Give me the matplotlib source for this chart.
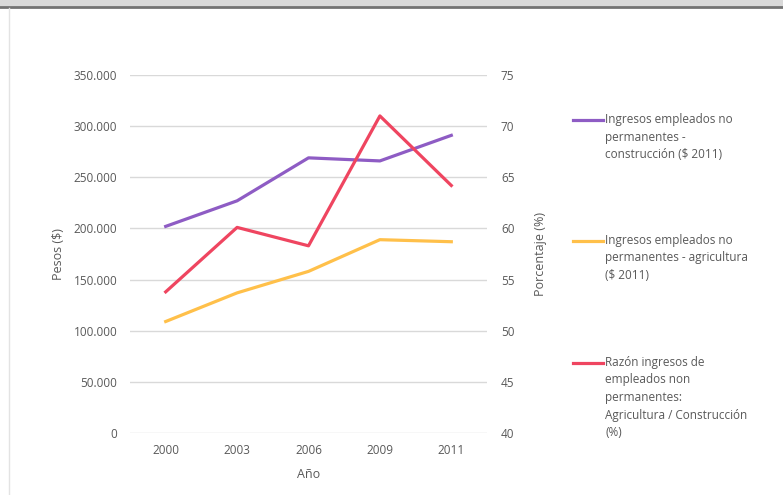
import numpy as np
import matplotlib
matplotlib.use("Agg")
from matplotlib import pyplot as plt
from matplotlib.lines import Line2D
from matplotlib.ticker import FuncFormatter

plt.rcParams['font.family'] = ['Open Sans', 'DejaVu Sans']

# datos
anios = ['2000', '2003', '2006', '2009', '2011']
construccion = [202000, 227000, 269000, 266000, 291000]
agricultura = [109000, 137000, 158000, 189000, 187000]
razon = [53.8, 60.1, 58.3, 71.0, 64.2]

etiquetas = [
    'Ingresos empleados no\npermanentes -\nconstrucción ($ 2011)',
    'Ingresos empleados no\npermanentes - agricultura\n($ 2011)',
    'Razón ingresos de\nempleados non\npermanentes:\nAgricultura / Construcción\n(%)',
]
colores = ['#8e5cc4', '#ffc04a', '#ef4560']

gris = '#595959'
W, H = 783, 495
fig = plt.figure(figsize=(W / 100, H / 100), dpi=100)

# marco superior / izquierdo (captura de pantalla)
fig.patches.append(plt.Rectangle((0, 1 - 6 / H), 1, 6 / H, transform=fig.transFigure,
                                 color='#d9d9d9', zorder=0))
fig.add_artist(Line2D([0, 1], [1 - 7 / H, 1 - 7 / H], color='#737373', lw=2))
fig.add_artist(Line2D([9 / W, 9 / W], [0, 1 - 8 / H], color='#e3e3e3', lw=1))

ax = fig.add_axes([130 / W, 1 - 433 / H, 357 / W, 358 / H])
ax2 = ax.twinx()

x = np.arange(len(anios))
ax.plot(x, construccion, color=colores[0], lw=2.3)
ax.plot(x, agricultura, color=colores[1], lw=2.3)
ax2.plot(x, razon, color=colores[2], lw=2.3)

ax.set_xlim(-0.5, len(anios) - 0.5)
ax.set_ylim(0, 350000)
ax2.set_ylim(40, 75)
ax.set_yticks(np.arange(0, 350001, 50000))
ax2.set_yticks(np.arange(40, 76, 5))
ax.yaxis.set_major_formatter(FuncFormatter(lambda v, p: '0' if v == 0 else f'{int(v):,}'.replace(',', '.')))
ax.set_xticks(x)
ax.set_xticklabels(anios)

ax.grid(axis='y', color='#d9d9d9', lw=1)
ax.set_axisbelow(True)
for a in (ax, ax2):
    for s in a.spines.values():
        s.set_visible(False)
    a.tick_params(length=0, colors=gris, labelsize=8.5)
ax.tick_params(axis='y', pad=9)
ax.tick_params(axis='x', pad=8)
ax2.tick_params(axis='y', pad=10)

ax.set_ylabel('Pesos ($)', color=gris, fontsize=9, labelpad=6)
ax2.set_ylabel('Porcentaje (%)', color=gris, fontsize=9, labelpad=14)
ax.set_xlabel('Año', color=gris, fontsize=9, labelpad=8)

# leyenda
ys = [120, 241, 363]
for c, lab, y in zip(colores, etiquetas, ys):
    fig.add_artist(Line2D([573 / W, 603 / W], [1 - y / H, 1 - y / H], color=c, lw=2.3))
    fig.text(605 / W, 1 - (y - 7) / H, lab, color=gris, fontsize=8.5, va='top', ha='left',
             linespacing=1.45)

fig.savefig('out.png', dpi=100)
